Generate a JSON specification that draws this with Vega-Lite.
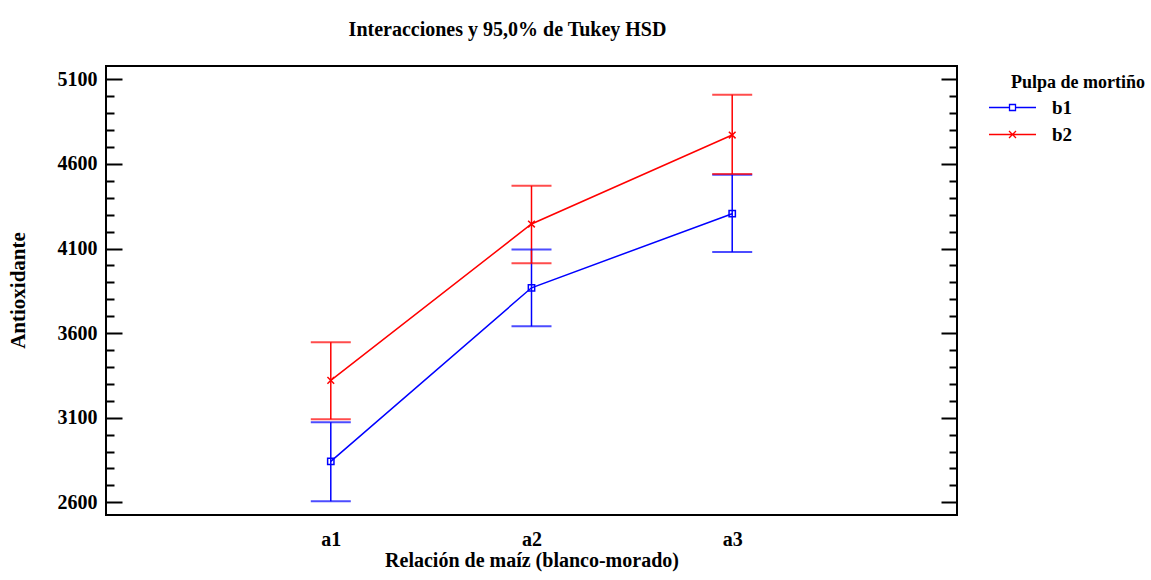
{
  "$schema": "https://vega.github.io/schema/vega-lite/v6.json",
  "width": 851,
  "height": 449,
  "autosize": "none",
  "padding": {"left": 106, "top": 66, "right": 194, "bottom": 65},
  "background": "white",
  "config": {
    "view": {"stroke": "black", "strokeWidth": 2},
    "font": "Liberation Serif"
  },
  "title": {
    "text": "Interacciones y 95,0% de Tukey HSD",
    "anchor": "middle",
    "dx": -24,
    "offset": 10,
    "baseline": "alphabetic",
    "font": "Liberation Serif",
    "fontSize": 20,
    "fontWeight": "bold",
    "color": "black"
  },
  "data": {
    "values": [
      {"a": 1, "b": "b1", "mean": 2842, "lower": 2606, "upper": 3073},
      {"a": 2, "b": "b1", "mean": 3868, "lower": 3640, "upper": 4095},
      {"a": 3, "b": "b1", "mean": 4306, "lower": 4079, "upper": 4536},
      {"a": 1, "b": "b2", "mean": 3321, "lower": 3091, "upper": 3546},
      {"a": 2, "b": "b2", "mean": 4245, "lower": 4013, "upper": 4471},
      {"a": 3, "b": "b2", "mean": 4771, "lower": 4540, "upper": 5009}
    ]
  },
  "resolve": {"axis": {"y": "independent"}},
  "layer": [
    {
      "mark": {"type": "line", "strokeWidth": 1.5},
      "encoding": {
        "x": {
          "field": "a", "type": "quantitative",
          "scale": {"domain": [-0.12, 4.12], "nice": false, "zero": false},
          "axis": {
            "values": [1, 2, 3],
            "labelExpr": "'a' + datum.value",
            "ticks": false, "domain": false, "grid": false,
            "labelFont": "Liberation Serif", "labelFontSize": 20, "labelFontWeight": "bold", "labelColor": "black",
            "labelPadding": 14,
            "title": "Relación de maíz (blanco-morado)",
            "titleFont": "Liberation Serif", "titleFontSize": 20, "titleFontWeight": "bold", "titleColor": "black",
            "titleY": 51, "titleBaseline": "alphabetic"
          }
        },
        "y": {
          "field": "mean", "type": "quantitative",
          "scale": {"domain": [2525, 5179], "nice": false, "zero": false},
          "axis": {
            "orient": "left",
            "values": [2600, 2700, 2800, 2900, 3000, 3100, 3200, 3300, 3400, 3500, 3600, 3700, 3800, 3900, 4000, 4100, 4200, 4300, 4400, 4500, 4600, 4700, 4800, 4900, 5000, 5100],
            "tickSize": {"condition": {"test": "datum.value % 500 === 100", "value": -16}, "value": -8},
            "tickColor": "black", "tickWidth": 2,
            "labelExpr": "datum.value % 500 === 100 ? datum.label : ''",
            "format": "d",
            "domain": false, "grid": false,
            "labelFont": "Liberation Serif", "labelFontSize": 20, "labelFontWeight": "bold", "labelColor": "black",
            "labelPadding": 25,
            "title": "Antioxidante",
            "titleFont": "Liberation Serif", "titleFontSize": 21, "titleFontWeight": "bold", "titleColor": "black",
            "titleX": -88, "titleY": 224, "titleAngle": -90, "titleAlign": "center", "titleBaseline": "middle"
          }
        },
        "color": {
          "field": "b", "type": "nominal",
          "scale": {"domain": ["b1", "b2"], "range": ["#0000ff", "#ff0000"]},
          "legend": {
            "title": "Pulpa de mortiño",
            "orient": "none",
            "legendX": 897,
            "legendY": 8,
            "titleFont": "Liberation Serif", "titleFontSize": 18, "titleFontWeight": "bold", "titleColor": "black",
            "titlePadding": 6,
            "labelFont": "Liberation Serif", "labelFontSize": 19, "labelFontWeight": "bold", "labelColor": "black",
            "labelOffset": 30,
            "rowPadding": 7,
            "symbolSize": 100,
            "symbolStrokeWidth": 1.3,
            "symbolFillColor": "transparent",
            "encode": {
              "title": {"update": {"dx": {"value": 8}}},
              "symbols": {
                "update": {
                  "shape": {"signal": "datum.value === 'b1' ? 'M-4.7,0H-0.6M0.6,0H4.7M-0.6,-0.6H0.6V0.6H-0.6Z' : 'M-4.7,0H4.7M-0.7,-0.7L0.7,0.7M-0.7,0.7L0.7,-0.7'"},
                  "fill": {"value": "transparent"},
                  "fillOpacity": {"value": 0},
                  "strokeWidth": {"value": 1.3}
                }
              }
            }
          }
        }
      }
    },
    {
      "mark": {"type": "rule", "strokeWidth": 1.5},
      "encoding": {
        "x": {"field": "a", "type": "quantitative"},
        "y": {
          "field": "lower", "type": "quantitative",
          "axis": {
            "orient": "right",
            "values": [2600, 2700, 2800, 2900, 3000, 3100, 3200, 3300, 3400, 3500, 3600, 3700, 3800, 3900, 4000, 4100, 4200, 4300, 4400, 4500, 4600, 4700, 4800, 4900, 5000, 5100],
            "tickSize": {"condition": {"test": "datum.value % 500 === 100", "value": -16}, "value": -8},
            "tickColor": "black", "tickWidth": 2,
            "labels": false, "domain": false, "grid": false, "title": null
          }
        },
        "y2": {"field": "upper"},
        "color": {"field": "b", "type": "nominal"}
      }
    },
    {
      "transform": [{"fold": ["lower", "upper"], "as": ["which", "v"]}],
      "mark": {"type": "tick", "orient": "horizontal", "size": 40, "thickness": 2},
      "encoding": {
        "x": {"field": "a", "type": "quantitative"},
        "y": {"field": "v", "type": "quantitative", "axis": null},
        "color": {"field": "b", "type": "nominal"}
      }
    },
    {
      "transform": [{"filter": "datum.b === 'b1'"}],
      "mark": {"type": "point", "shape": "square", "filled": false, "size": 40, "strokeWidth": 1.5, "opacity": 1},
      "encoding": {
        "x": {"field": "a", "type": "quantitative"},
        "y": {"field": "mean", "type": "quantitative", "axis": null},
        "color": {"field": "b", "type": "nominal"}
      }
    },
    {
      "transform": [{"filter": "datum.b === 'b2'"}],
      "mark": {"type": "point", "shape": "M-1,-1L1,1M-1,1L1,-1", "filled": false, "size": 45, "strokeWidth": 1.5, "opacity": 1},
      "encoding": {
        "x": {"field": "a", "type": "quantitative"},
        "y": {"field": "mean", "type": "quantitative", "axis": null},
        "color": {"field": "b", "type": "nominal"}
      }
    }
  ]
}
